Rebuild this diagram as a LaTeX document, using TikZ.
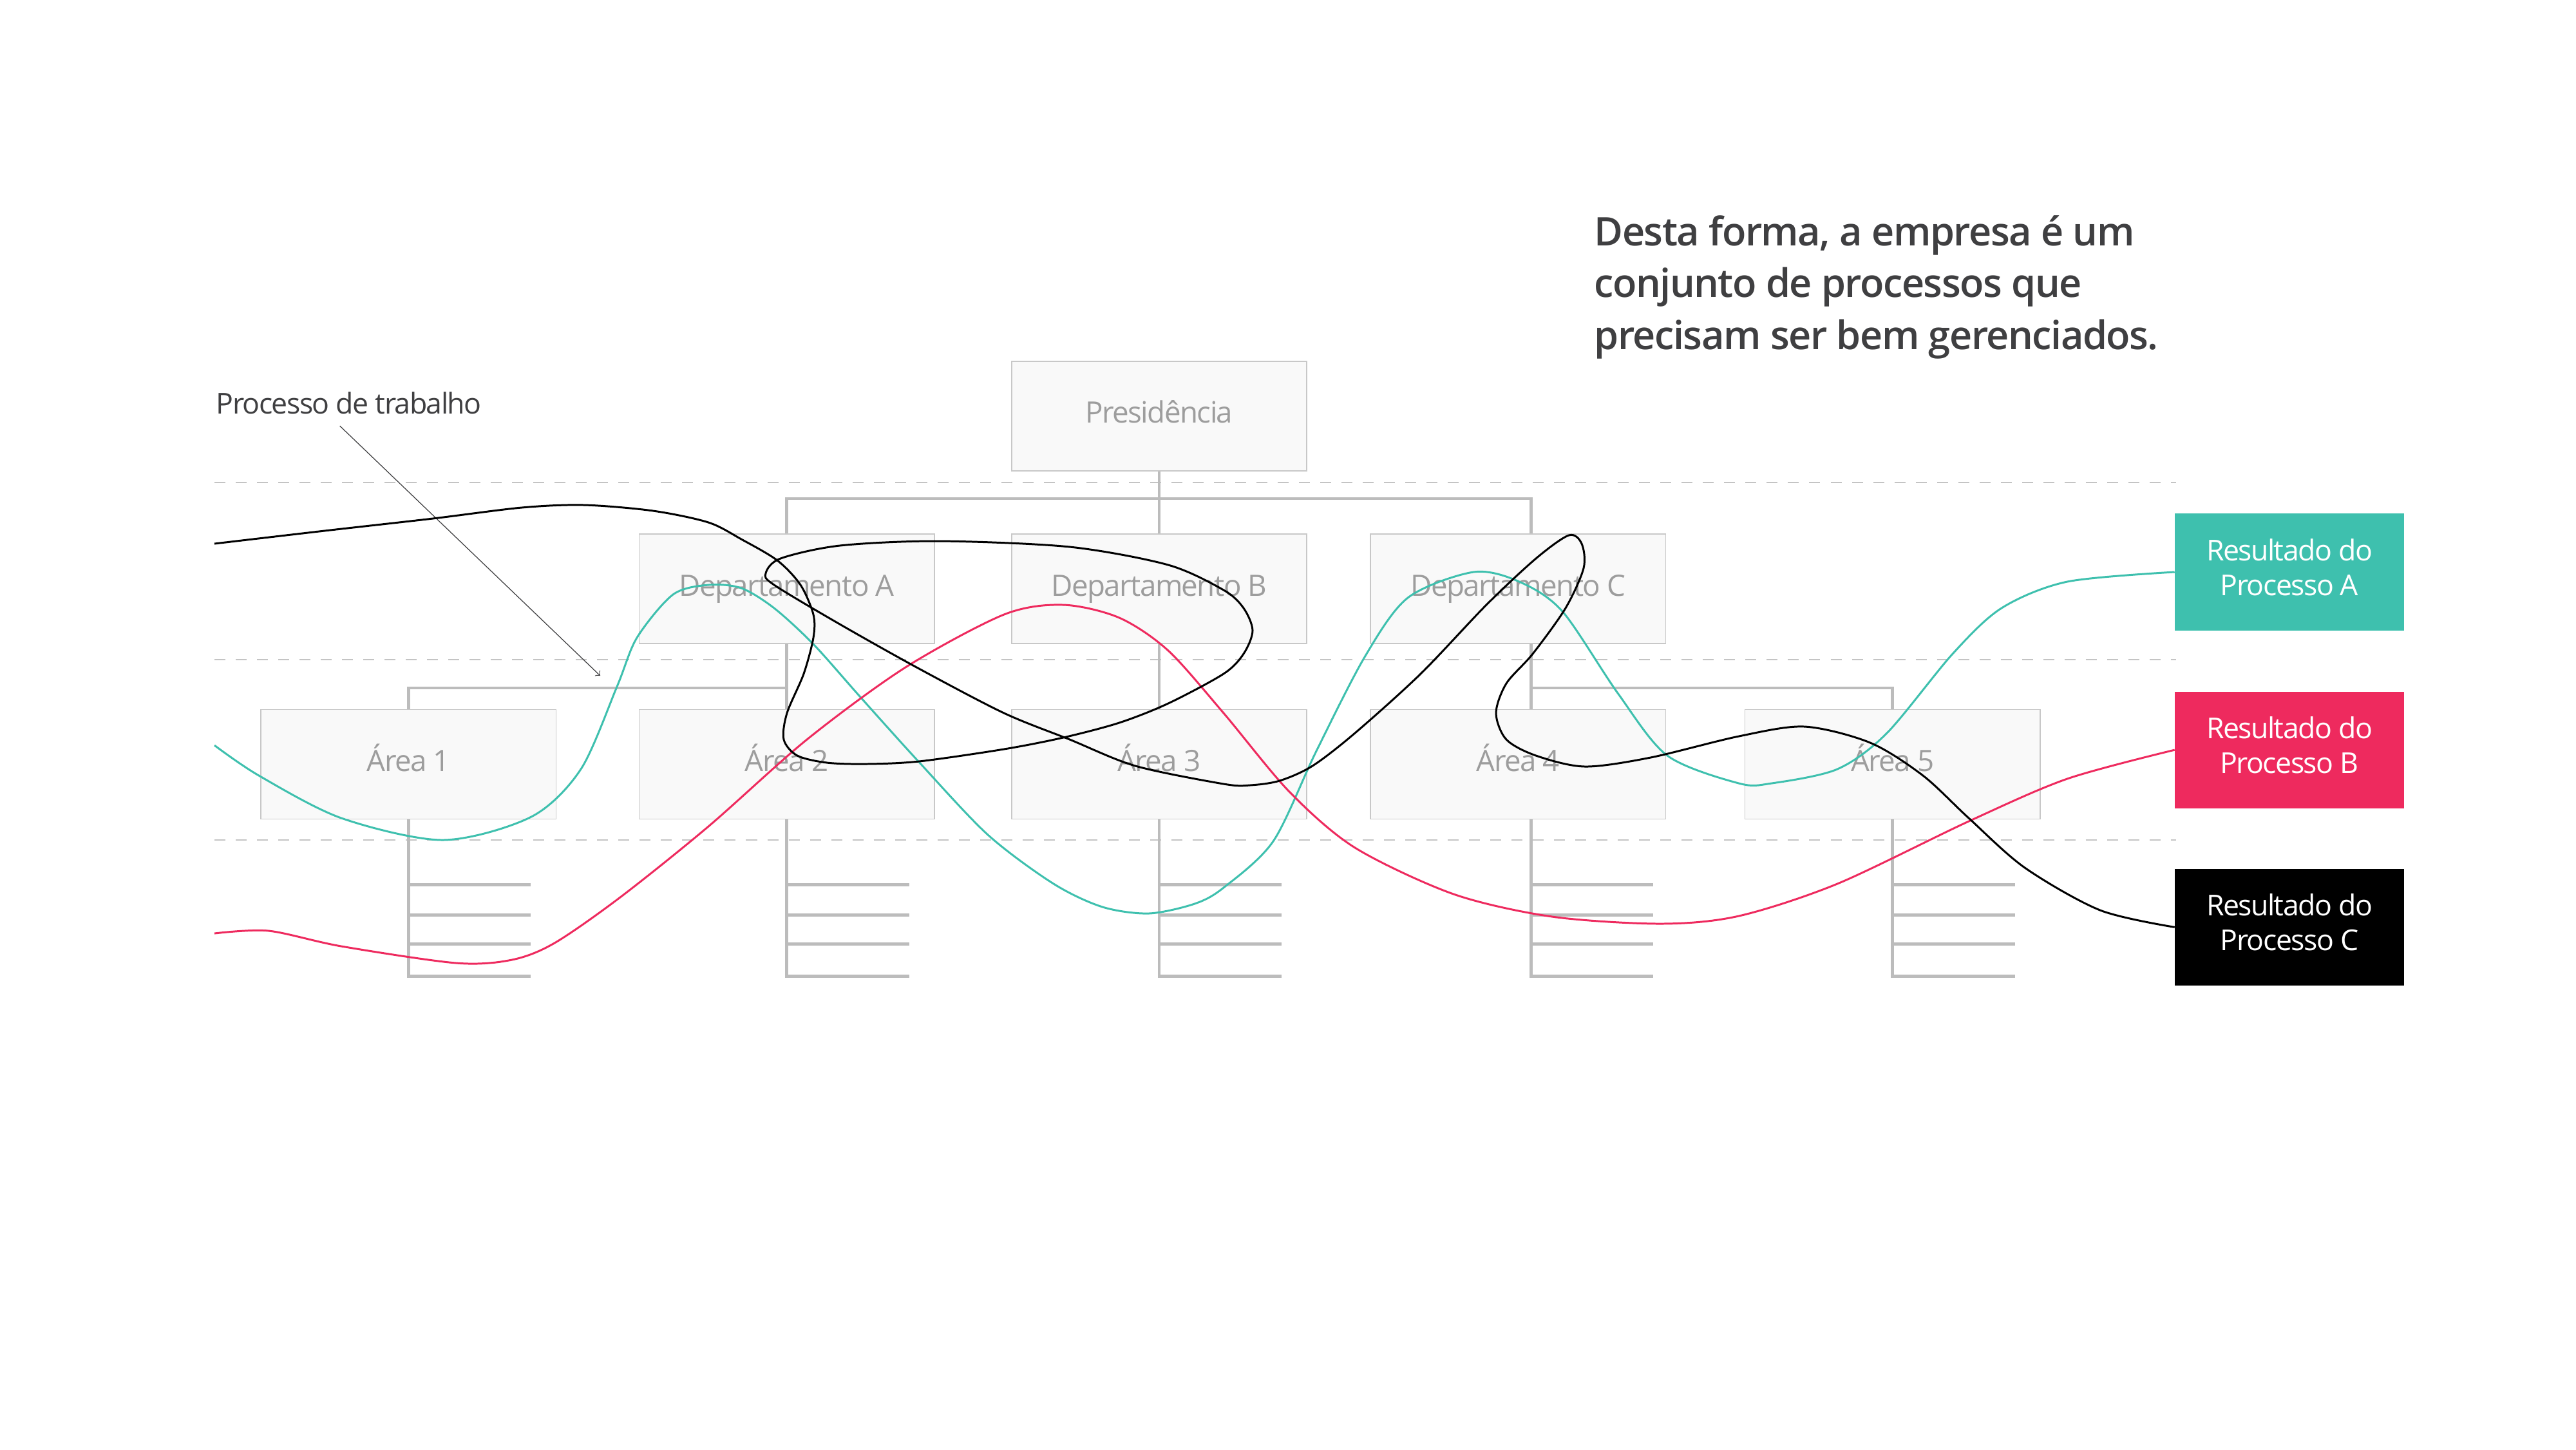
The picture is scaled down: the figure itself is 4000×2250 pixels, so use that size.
\documentclass[tikz,border=0pt]{standalone}
\usepackage{fontspec}
\setmainfont{Open Sans}[LetterSpace=-3.5]
\IfFontExistsTF{Open Sans Semibold}
  {\newfontfamily\headfont{Open Sans Semibold}[LetterSpace=-2.5]}
  {\newfontfamily\headfont{Open Sans}[FakeBold=1.3, LetterSpace=-2.5]}
\usepackage{tikz}
\usetikzlibrary{arrows,shapes,backgrounds}
\definecolor{boxfill}{HTML}{F9F9F9}
\definecolor{boxline}{HTML}{C8C8C8}
\definecolor{orggray}{HTML}{BCBCBC}
\definecolor{guidegray}{HTML}{C4C4C4}
\definecolor{labelgray}{HTML}{9D9D9D}
\definecolor{headgray}{HTML}{3F3F41}
\definecolor{procA}{HTML}{3EC0AE}
\definecolor{procB}{HTML}{EE2A5E}
\definecolor{procC}{HTML}{000000}

\begin{document}
\begin{tikzpicture}
[x=0.01cm, y=-0.01cm,
  orgbox/.style={rectangle, draw=boxline, line width=0.45pt, fill=boxfill,
    minimum width=4.58cm, minimum height=1.7cm, text=labelgray,
    text height=9.3pt, text depth=3.1pt, font=\fontsize{13}{15}\selectfont},
  resultbox/.style={rectangle, minimum width=3.55cm, minimum height=1.81cm,
    text=white, align=center, text depth=4.4pt, font=\fontsize{12.7}{15.4}\selectfont},
  orgline/.style={draw=orggray, line width=1.4pt},
  guide/.style={draw=guidegray, line width=0.6pt, dash pattern=on 0.17cm off 0.16cm},
  process/.style={line width=0.85pt}]
  \fill[white] (0,0) rectangle (4000,2250);
  \useasboundingbox (0,0) rectangle (4000,2250);

  \foreach \y in {749,1024,1304}
    \draw[guide] (333,\y) -- (3379,\y);

  \node[orgbox] (Presidencia) at (1800,646) {Presidência};
  \node[orgbox, below of=Presidencia, node distance=2.68cm] (DeptB) {Departamento B};
  \node[orgbox, left of=DeptB, node distance=5.78cm] (DeptA) {Departamento A};
  \node[orgbox, right of=DeptB, node distance=5.57cm] (DeptC) {Departamento C};
  \node[orgbox, below of=DeptB, node distance=2.72cm] (Area3) {Área 3};
  \node[orgbox, below of=DeptA, node distance=2.72cm] (Area2) {Área 2};
  \node[orgbox, below of=DeptC, node distance=2.72cm] (Area4) {Área 4};
  \node[orgbox, left of=Area2, node distance=5.87cm] (Area1) {Área 1};
  \node[orgbox, right of=Area4, node distance=5.81cm] (Area5) {Área 5};

  \coordinate (DeptBar) at (1800,774);
  \coordinate (AreaBar) at (1800,1068);
  \draw[orgline] (Presidencia.south) -- (DeptBar);
  \draw[orgline] (DeptA.north) |- (DeptBar) -| ([xshift=0.2cm]DeptC.north);
  \draw[orgline] (DeptB.north) -- (DeptB.north |- DeptBar);
  \draw[orgline] (DeptA.south) -- (Area2.north);
  \draw[orgline] (Area1.north) |- (DeptA.south |- AreaBar);
  \draw[orgline] (DeptB.south) -- (Area3.north);
  \draw[orgline] ([xshift=0.2cm]DeptC.south) -- ([xshift=0.2cm]Area4.north);
  \draw[orgline] (Area5.north) |- ([xshift=0.2cm]DeptC.south |- AreaBar);
  \foreach \a/\dx in {Area1/0,Area2/0,Area3/0,Area4/0.2,Area5/0} {
    \draw[orgline] ([xshift=\dx cm]\a.south) -- ++(0,243) -- ++(190,0);
    \foreach \t in {101,148,193}
      \draw[orgline] ([xshift=\dx cm]\a.south) ++(0,\t) -- ++(190,0);
  }

  \node[resultbox, fill=procA] (ResultA) at (3555,888) {Resultado do\\Processo A};
  \node[resultbox, fill=procB, below of=ResultA, node distance=2.76cm] (ResultB) {Resultado do\\Processo B};
  \node[resultbox, fill=procC, below of=ResultB, node distance=2.75cm] (ResultC) {Resultado do\\Processo C};

  \node[anchor=base west, inner sep=0pt, align=left, text=headgray,
    font=\headfont\fontsize{17.4}{22.8}\selectfont] (Headline) at (2475,542)
    {Desta forma, a empresa é um\\conjunto de processos que\\precisam ser bem gerenciados.};
  \node[anchor=base west, inner sep=0pt, text=headgray,
    font=\fontsize{12.7}{15}\selectfont] (WorkLabel) at (335,642) {Processo de trabalho};
  \coordinate (WorkTip) at (932,1049);
  \draw[->, line width=0.35pt, headgray] ([xshift=-0.14cm,yshift=-0.18cm]WorkLabel.south) -- (WorkTip);

  \draw[process, procA] plot[smooth, tension=0.5] coordinates {(333,1157) (402,1204) (530,1270)
    (688,1304) (825,1268) (902,1194) (958,1066) (989,990) (1045,923) (1100,908) (1151,913)
    (1202,944) (1263,1000) (1335,1081) (1427,1183) (1534,1296) (1636,1372) (1712,1408)
    (1784,1418) (1855,1403) (1900,1378) (1977,1306) (2043,1168) (2119,1020) (2186,928)
    (2288,888) (2359,903) (2426,949) (2512,1076) (2589,1173) (2700,1216) (2751,1216)
    (2853,1194) (2930,1138) (3032,1015) (3108,944) (3210,903) (ResultA.west)};
  \draw[process, procB] plot[smooth, tension=0.5] coordinates {(333,1449) (417,1445) (530,1469)
    (708,1495) (795,1490) (861,1464) (963,1393) (1100,1283) (1253,1148) (1406,1036)
    (1559,954) (1651,939) (1738,959) (1814,1010) (1900,1107) (2002,1229) (2104,1316)
    (2257,1388) (2410,1423) (2579,1434) (2700,1422) (2853,1372) (3057,1275) (3210,1209)
    (ResultB.west)};
  \draw[process, procC] plot[smooth, tension=0.5] coordinates {(333,844) (504,824) (672,805)
    (810,788) (907,784) (1014,793) (1100,811) (1151,837) (1207,870) (1243,908) (1263,954)
    (1263,990) (1248,1046) (1222,1107) (1217,1148) (1238,1173) (1284,1184) (1345,1186)
    (1427,1182) (1559,1163) (1651,1145) (1738,1122) (1814,1092) (1900,1046) (1931,1015)
    (1945,979) (1931,944) (1900,916) (1814,877) (1661,849) (1457,840) (1304,847) (1212,867)
    (1189,890) (1202,908) (1304,969) (1427,1038) (1559,1107) (1661,1148) (1763,1189)
    (1900,1217) (1941,1219) (1987,1212) (2038,1189) (2104,1138) (2206,1046) (2308,939)
    (2385,867) (2436,831) (2456,844) (2459,882) (2431,944) (2380,1015) (2339,1061)
    (2323,1107) (2339,1148) (2385,1173) (2461,1190) (2563,1176) (2700,1143) (2802,1128)
    (2904,1153) (2986,1204) (3057,1270) (3144,1347) (3261,1413) (ResultC.west)};
\end{tikzpicture}
\end{document}
